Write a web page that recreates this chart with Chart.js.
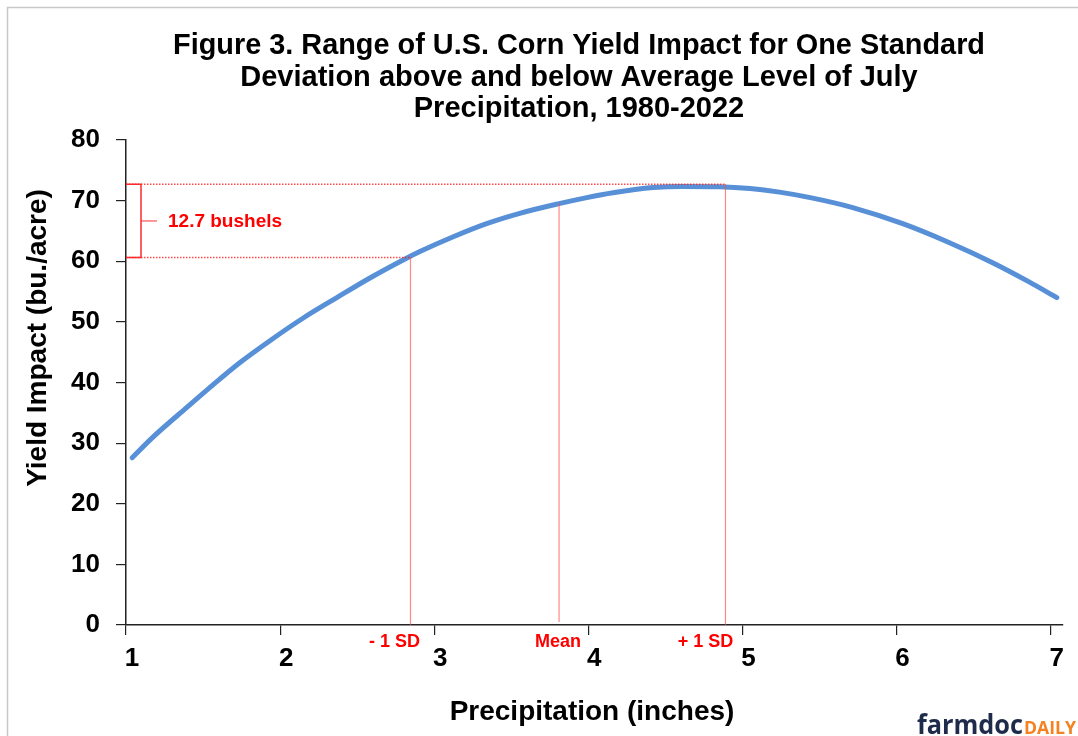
<!DOCTYPE html>
<html>
<head>
<meta charset="utf-8">
<script src="https://cdn.jsdelivr.net/npm/chart.js@4.4.0/dist/chart.umd.min.js"></script>
<style>
  html, body { margin: 0; padding: 0; background: #ffffff; }
  #wrap { width: 1078px; height: 736px; position: relative; }
</style>
</head>
<body>
<div id="wrap"><canvas id="c"></canvas></div>
<script>
// ---- Data ----
const titleLines = [
  'Figure 3. Range of U.S. Corn Yield Impact for One Standard',
  'Deviation above and below Average Level of July',
  'Precipitation, 1980-2022'
];
const xAxisTitle = 'Precipitation (inches)';
const yAxisTitle = 'Yield Impact (bu./acre)';

const precipX = [1.04, 1.175, 1.395, 1.61, 1.74, 1.934, 2.148, 2.368, 2.58, 2.82, 2.907,
                 3.12, 3.34, 3.555, 3.81, 3.99, 4.16, 4.42, 4.61, 4.85, 5.05, 5.24, 5.44,
                 5.71, 6.04, 6.34, 6.62, 6.86, 7.04];
const yieldY  = [27.6, 31.0, 35.9, 40.6, 43.3, 46.9, 50.6, 54.0, 57.2, 60.5, 61.6,
                 64.0, 66.2, 67.9, 69.5, 70.5, 71.3, 72.15, 72.35, 72.3, 72.0, 71.4, 70.5,
                 68.9, 66.2, 63.1, 59.8, 56.6, 54.0];

const xTickValues = [1, 2, 3, 4, 5, 6, 7];
const xMin = 1, xMax = 7.08;
const yMin = 0, yMax = 80, yStep = 10;

const sdLabels  = ['- 1 SD', 'Mean', '+ 1 SD'];
const sdX       = [2.846, 3.81, 4.89];
const sdYTop    = [60.6, 69.5, 72.7];
const sdYBottom = [0, 0.5, 0];

const rangeLow = 60.6;
const rangeHigh = 72.7;
const rangeLabel = '12.7 bushels';

const logoMain = 'farmdoc';
const logoSub = 'DAILY';

// ---- Build datasets ----
const FONT = '"Liberation Sans", Arial, Helvetica, sans-serif';
const RED_SOLID = 'rgba(255,70,70,0.65)';
const RED_DOT = 'rgba(255,30,30,0.8)';

const datasets = [];
// horizontal dotted reference lines (from the y axis to the SD lines)
datasets.push({
  data: [{x: xMin, y: rangeHigh}, {x: sdX[2], y: rangeHigh}],
  borderColor: RED_DOT, borderWidth: 1.5, borderDash: [1.5, 1.5], order: 1
});
datasets.push({
  data: [{x: xMin, y: rangeLow}, {x: sdX[0], y: rangeLow}],
  borderColor: RED_DOT, borderWidth: 1.5, borderDash: [1.5, 1.5], order: 1
});
// vertical SD / mean lines
sdX.forEach((xv, i) => {
  datasets.push({
    data: [{x: xv, y: sdYTop[i]}, {x: xv, y: sdYBottom[i]}],
    borderColor: RED_SOLID, borderWidth: 1.2, order: 1
  });
});
// the yield curve
datasets.push({
  data: precipX.map((xv, i) => ({x: xv, y: yieldY[i]})),
  borderColor: '#5890d8', borderWidth: 5, cubicInterpolationMode: 'monotone',
  borderCapStyle: 'round', order: 2
});
datasets.forEach(d => { d.showLine = true; d.pointRadius = 0; d.pointHoverRadius = 0; d.fill = false; });

// ---- Custom drawing of texts / bracket / frame ----
const decorPlugin = {
  id: 'decor',
  afterDraw(chart) {
    const ctx = chart.ctx;
    const xs = chart.scales.x, ys = chart.scales.y;
    ctx.save();

    // outer frame (left and top)
    ctx.strokeStyle = '#c8c8c8';
    ctx.lineWidth = 1.5;
    ctx.beginPath();
    ctx.moveTo(7.5, 736); ctx.lineTo(7.5, 7.5); ctx.lineTo(1078, 7.5);
    ctx.stroke();

    // title
    ctx.fillStyle = '#000';
    ctx.font = 'bold 29px ' + FONT;
    ctx.textAlign = 'center';
    ctx.textBaseline = 'alphabetic';
    const base = [54, 85.5, 117];
    titleLines.forEach((t, i) => ctx.fillText(t, 579, base[i], 812));

    // y axis title
    ctx.save();
    ctx.translate(46, 338);
    ctx.rotate(-Math.PI / 2);
    ctx.font = 'bold 28px ' + FONT;
    ctx.textAlign = 'center';
    ctx.fillText(yAxisTitle, 0, 0, 302);
    ctx.restore();

    // x axis title
    ctx.font = 'bold 28px ' + FONT;
    ctx.textAlign = 'center';
    ctx.fillText(xAxisTitle, 592, 720, 292);

    // SD labels
    ctx.fillStyle = '#ff0000';
    ctx.font = 'bold 18px ' + FONT;
    const sdOffsets = [-16, -1, -20];
    sdLabels.forEach((t, i) => {
      ctx.fillText(t, xs.getPixelForValue(sdX[i]) + sdOffsets[i], 647);
    });

    // bracket
    const left = xs.getPixelForValue(xMin);
    const yTop = ys.getPixelForValue(rangeHigh);
    const yBot = ys.getPixelForValue(rangeLow);
    const bx = left + 15;
    ctx.strokeStyle = '#ff2a2a';
    ctx.lineWidth = 1.5;
    ctx.beginPath();
    ctx.moveTo(left, yTop); ctx.lineTo(bx, yTop); ctx.lineTo(bx, yBot); ctx.lineTo(left, yBot);
    ctx.stroke();
    const yMid = (yTop + yBot) / 2;
    ctx.strokeStyle = 'rgba(255,60,60,0.7)';
    ctx.beginPath();
    ctx.moveTo(bx, yMid); ctx.lineTo(bx + 16, yMid);
    ctx.stroke();
    ctx.fillStyle = '#ff0000';
    ctx.font = 'bold 19px ' + FONT;
    ctx.textAlign = 'left';
    ctx.textBaseline = 'middle';
    ctx.fillText(rangeLabel, bx + 27, yMid + 1);

    // logo
    ctx.textBaseline = 'alphabetic';
    ctx.textAlign = 'left';
    ctx.font = 'bold 26px "Open Sans", ' + FONT;
    ctx.fillStyle = '#1e2b4a';
    ctx.fillText(logoMain, 917, 734, 106);
    ctx.font = 'bold 18px "Open Sans", ' + FONT;
    ctx.fillStyle = '#f58220';
    ctx.fillText(logoSub, 1024, 734, 52);

    ctx.restore();
  }
};

Chart.defaults.font.family = FONT;

new Chart(document.getElementById('c'), {
  type: 'scatter',
  data: { datasets },
  options: {
    responsive: true,
    maintainAspectRatio: false,
    animation: false,
    events: [],
    layout: { padding: { top: 140, right: 15, bottom: 0, left: 0 } },
    plugins: { legend: { display: false }, tooltip: { enabled: false }, title: { display: false } },
    scales: {
      x: {
        type: 'linear', min: xMin, max: xMax,
        afterBuildTicks: (s) => { s.ticks = xTickValues.map(v => ({ value: v })); },
        afterFit: (s) => { s.height = 111; },
        ticks: { color: '#000', font: { size: 26, weight: 'bold' }, padding: 8, labelOffset: 6, maxRotation: 0 },
        grid: { drawOnChartArea: false, drawTicks: true, tickLength: 10, color: '#222', lineWidth: 1.2 },
        border: { display: true, color: '#222', width: 1.5 }
      },
      y: {
        type: 'linear', min: yMin, max: yMax,
        afterFit: (s) => { s.width = 126; },
        ticks: { stepSize: yStep, color: '#000', font: { size: 26, weight: 'bold' }, padding: 16 },
        grid: { drawOnChartArea: false, drawTicks: true, tickLength: 10, color: '#222', lineWidth: 1.2 },
        border: { display: true, color: '#222', width: 1.5 }
      }
    }
  },
  plugins: [decorPlugin]
});
</script>
</body>
</html>
